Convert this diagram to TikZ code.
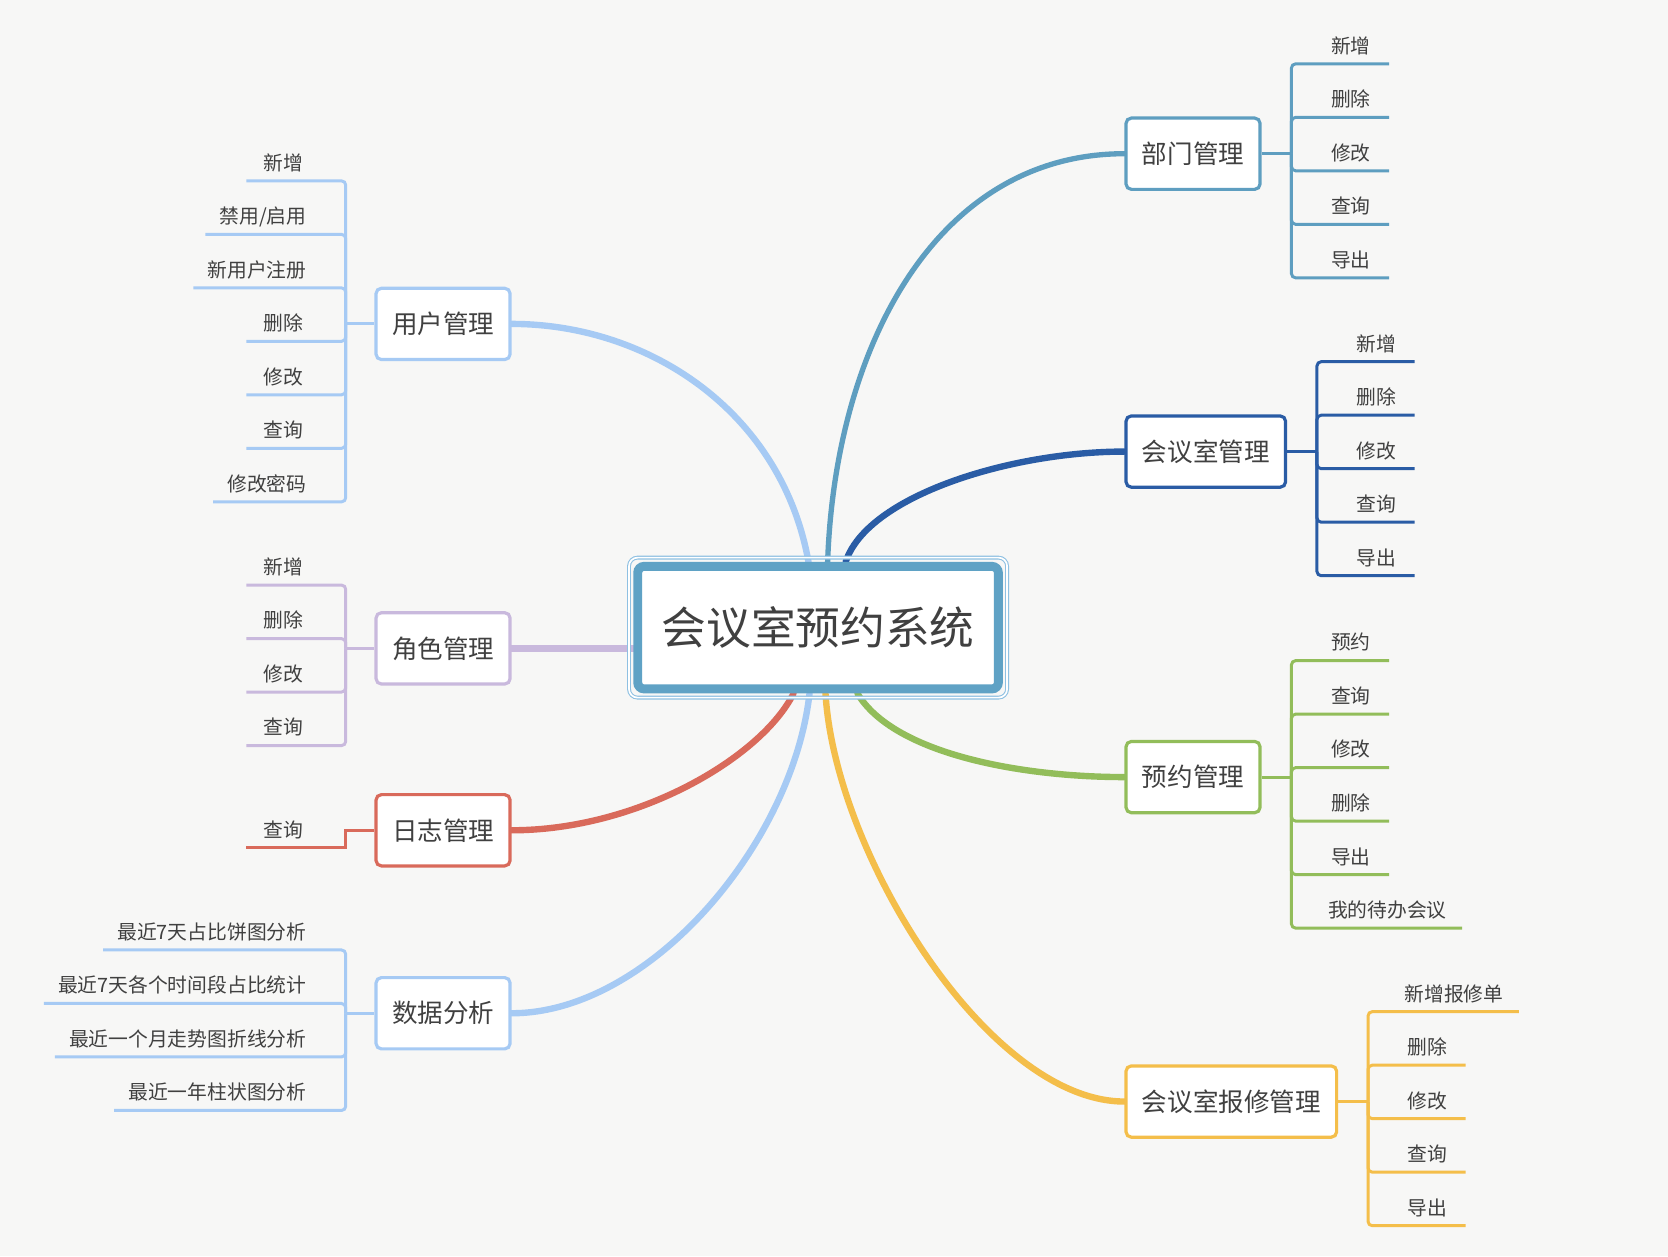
\documentclass[tikz,border=0pt]{standalone}
\usepackage{fontspec}
\setmainfont{Noto Sans CJK SC}
\usetikzlibrary{calc,backgrounds}

\definecolor{bgc}{HTML}{F7F7F6}
\definecolor{txtc}{HTML}{404040}
\definecolor{sysc}{HTML}{5FA2C5}
\definecolor{framec}{HTML}{8EC0E2}
\definecolor{yhc}{HTML}{A6CAF4}
\definecolor{jsc}{HTML}{C9B9DD}
\definecolor{rzc}{HTML}{D96A5B}
\definecolor{sjc}{HTML}{A6CAF4}
\definecolor{bmc}{HTML}{5E9EC0}
\definecolor{hysc}{HTML}{2A5CA5}
\definecolor{yyc}{HTML}{92BD5A}
\definecolor{bxc}{HTML}{F4BE4A}

\tikzset{
  sysbox/.style={draw=sysc, line width=4.2pt, rounded corners=3pt, fill=white, text=txtc,
    font=\fontsize{21}{21}\selectfont, minimum width=169.5pt, minimum height=57.6pt, inner sep=0pt},
  sysframe/.style={draw=framec, line width=0.5pt, double=white, double distance=0.8pt, rounded corners=4pt},
  topic/.style={draw=#1, line width=1.5pt, rounded corners=2.5pt, fill=white, text=txtc,
    font=\fontsize{12}{12}\selectfont, minimum height=33.5pt, inner xsep=7.5pt},
  leaf/.style={text=txtc, font=\fontsize{9.3}{9.3}\selectfont, inner sep=0pt, minimum width=21.5pt},
  link/.style={draw=#1, line width=3pt, line cap=round},
  twig/.style={draw=#1, line width=1.4pt, rounded corners=2pt},
}

\begin{document}
\begin{tikzpicture}[x=0.5pt, y=-0.5pt]
  \useasboundingbox (0,0) rectangle (1568,1181);

  % centre
  \node[sysbox] (sys) at (769,590) {会议室预约系统};
  \draw[sysframe] ([shift={(-4,-4)}]sys.north west) rectangle ([shift={(4,4)}]sys.south east);

  % main topics
  \node[topic=yhc, anchor=east] (yh) at (481,304.5) {用户管理};
  \node[topic=jsc, anchor=east] (js) at (481,609.5) {角色管理};
  \node[topic=rzc, anchor=east] (rz) at (481,780.5) {日志管理};
  \node[topic=sjc, anchor=east] (sj) at (481,952.5) {数据分析};
  \node[topic=bmc, anchor=west] (bm) at (1057,144.5) {部门管理};
  \node[topic=hysc, anchor=west] (hys) at (1057,424.5) {会议室管理};
  \node[topic=yyc, anchor=west] (yy) at (1057,730.5) {预约管理};
  \node[topic=bxc, anchor=west] (bx) at (1057,1035.5) {会议室报修管理};

  \coordinate (yh-j) at ([xshift=-13.5pt]yh.west);
  \coordinate (js-j) at ([xshift=-13.5pt]js.west);
  \coordinate (rz-j) at ([xshift=-13.5pt]rz.west);
  \coordinate (sj-j) at ([xshift=-13.5pt]sj.west);
  \coordinate (bm-j) at ([xshift=14pt]bm.east);
  \coordinate (hys-j) at ([xshift=14pt]hys.east);
  \coordinate (yy-j) at ([xshift=14pt]yy.east);
  \coordinate (bx-j) at ([xshift=14pt]bx.east);

  % leaves
  \foreach \t [count=\i] in {新增,禁用/启用,新用户注册,删除,修改,查询,修改密码}
    \node[leaf, anchor=base east] (yh-\i) at (288.5,{160+50.3*(\i-1)}) {\t};
  \foreach \t [count=\i] in {新增,删除,修改,查询}
    \node[leaf, anchor=base east] (js-\i) at (288.5,{540+50.3*(\i-1)}) {\t};
  \node[leaf, anchor=base east] (rz-1) at (288.5,787) {查询};
  \foreach \t [count=\i] in {最近7天占比饼图分析,最近7天各个时间段占比统计,最近一个月走势图折线分析,最近一年柱状图分析}
    \node[leaf, anchor=base east] (sj-\i) at (288.5,{883+50.3*(\i-1)}) {\t};
  \foreach \t [count=\i] in {新增,删除,修改,查询,导出}
    \node[leaf, anchor=base west] (bm-\i) at (1248,{50+50.3*(\i-1)}) {\t};
  \foreach \t [count=\i] in {新增,删除,修改,查询,导出}
    \node[leaf, anchor=base west] (hys-\i) at (1272,{330+50.3*(\i-1)}) {\t};
  \foreach \t [count=\i] in {预约,查询,修改,删除,导出,我的待办会议}
    \node[leaf, anchor=base west] (yy-\i) at (1248,{611+50.3*(\i-1)}) {\t};
  \foreach \t [count=\i] in {新增报修单,删除,修改,查询,导出}
    \node[leaf, anchor=base west] (bx-\i) at (1320,{941+50.3*(\i-1)}) {\t};

  \begin{scope}[on background layer]
    \fill[bgc] (0,0) rectangle (1568,1181);
    % branches to the centre
    \draw[link=yhc] (yh.east) .. controls +(130,0) and +(-25,-140) .. ([xshift=-4.5pt]sys.north);
    \draw[link=jsc, line width=3.6pt] (js.east) -- (js.east -| sys.west);
    \draw[link=rzc] (rz.east) .. controls +(119,0) and +(-30,60) .. ([xshift=-11.5pt]sys.south);
    \draw[link=sjc] (sj.east) .. controls +(129,0) and +(-16,142) .. ([xshift=-4pt]sys.south);
    \draw[link=bmc, line width=2.5pt] (bm.west) .. controls +(-177,0) and +(7,-202) .. ([xshift=4.5pt]sys.north);
    \draw[link=hysc] (hys.west) .. controls +(-107,0) and +(20,-62) .. ([xshift=13pt]sys.north);
    \draw[link=yyc] (yy.west) .. controls +(-97,0) and +(34,57) .. ([xshift=18.5pt]sys.south);
    \draw[link=bxc] (bx.west) .. controls +(-127,0) and +(9,152) .. ([xshift=3.5pt]sys.south);

    % brackets
    \draw[twig=yhc] (yh.west) -- (yh-j);
    \foreach \i in {1,...,7} \draw[twig=yhc] (yh-j) |- ($(yh-\i.base west)+(-13,10)$);
    \draw[twig=jsc] (js.west) -- (js-j);
    \foreach \i in {1,...,4} \draw[twig=jsc] (js-j) |- ($(js-\i.base west)+(-13,10)$);
    \draw[twig=rzc, sharp corners] (rz.west) -- (rz-j) |- ($(rz-1.base west)+(-13,10)$);
    \draw[twig=sjc] (sj.west) -- (sj-j);
    \foreach \i in {1,...,4} \draw[twig=sjc] (sj-j) |- ($(sj-\i.base west)+(-13,10)$);
    \draw[twig=bmc] (bm.east) -- (bm-j);
    \foreach \i in {1,...,5} \draw[twig=bmc] (bm-j) |- ($(bm-\i.base east)+(14,10)$);
    \draw[twig=hysc] (hys.east) -- (hys-j);
    \foreach \i in {1,...,5} \draw[twig=hysc] (hys-j) |- ($(hys-\i.base east)+(14,10)$);
    \draw[twig=yyc] (yy.east) -- (yy-j);
    \foreach \i in {1,...,6} \draw[twig=yyc] (yy-j) |- ($(yy-\i.base east)+(14,10)$);
    \draw[twig=bxc] (bx.east) -- (bx-j);
    \foreach \i in {1,...,5} \draw[twig=bxc] (bx-j) |- ($(bx-\i.base east)+(14,10)$);
  \end{scope}
\end{tikzpicture}
\end{document}
